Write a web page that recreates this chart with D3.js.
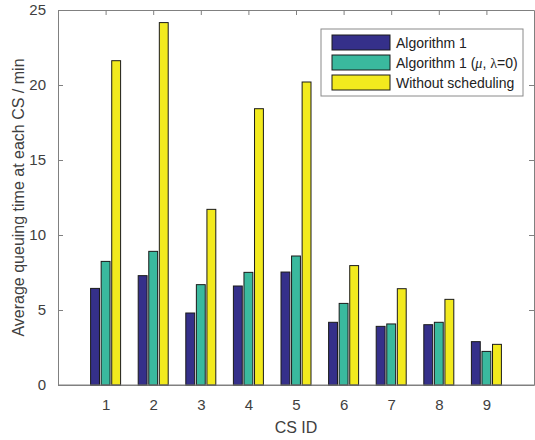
<!DOCTYPE html>
<html lang="en">
<head>
    <meta charset="UTF-8">
    <title>Average queuing time at each CS</title>
    <style>
        body {
            margin: 0;
            padding: 0;
            background: #ffffff;
        }
        svg text {
            font-family: "Liberation Sans", Arial, Helvetica, sans-serif;
        }
    </style>
</head>
<body>
    <div id="chart"></div>
    <script src="https://d3js.org/d3.v7.min.js"></script>
    <script>
        // Data
        const csIds = [1, 2, 3, 4, 5, 6, 7, 8, 9];
        const seriesNames = ['Algorithm 1', 'Algorithm 1 (mu, lambda=0)', 'Without scheduling'];
        const algorithm1 = [6.44, 7.29, 4.80, 6.60, 7.53, 4.18, 3.91, 4.02, 2.89];
        const algorithm1Zero = [8.24, 8.91, 6.69, 7.51, 8.60, 5.44, 4.07, 4.18, 2.24];
        const withoutScheduling = [21.62, 24.16, 11.71, 18.42, 20.20, 7.96, 6.42, 5.71, 2.71];
        const yTicks = [0, 5, 10, 15, 20, 25];
        const colors = ['#35308a', '#3ab99e', '#f2ea1e'];

        const width = 535;
        const height = 440;
        const margin = { top: 10, right: 1, bottom: 55, left: 58 };
        const plotRight = width - margin.right;
        const plotBottom = height - margin.bottom;

        const svg = d3.select('#chart')
            .append('svg')
            .attr('width', width)
            .attr('height', height);

        const x = d3.scaleLinear()
            .domain([0, 10])
            .range([margin.left, plotRight]);

        const y = d3.scaleLinear()
            .domain([0, 25])
            .range([plotBottom, margin.top]);

        // offsets of the three bars inside a group
        const xSub = d3.scaleBand()
            .domain(seriesNames)
            .range([-15, 15])
            .paddingInner(0.16);

        const axisColor = '#808080';
        const textColor = '#404040';
        const tickLen = 5;

        // bottom + top axes (ticks pointing inwards)
        const bottomAxis = svg.append('g')
            .attr('transform', `translate(0,${plotBottom})`)
            .call(d3.axisBottom(x).tickValues(csIds).tickSizeInner(-tickLen).tickSizeOuter(0).tickPadding(14));
        const topAxis = svg.append('g')
            .attr('transform', `translate(0,${margin.top})`)
            .call(d3.axisTop(x).tickValues(csIds).tickSizeInner(-tickLen).tickSizeOuter(0).tickFormat(''));
        const leftAxis = svg.append('g')
            .attr('transform', `translate(${margin.left},0)`)
            .call(d3.axisLeft(y).tickValues(yTicks).tickSizeInner(-tickLen).tickSizeOuter(0).tickPadding(12));
        const rightAxis = svg.append('g')
            .attr('transform', `translate(${plotRight},0)`)
            .call(d3.axisRight(y).tickValues(yTicks).tickSizeInner(-tickLen).tickSizeOuter(0).tickFormat(''));

        [bottomAxis, topAxis, leftAxis, rightAxis].forEach(a => {
            a.select('.domain').attr('stroke', axisColor);
            a.selectAll('.tick line').attr('stroke', axisColor);
            a.selectAll('.tick text')
                .attr('fill', textColor)
                .style('font-size', '15px');
        });

        // bars
        const seriesData = [algorithm1, algorithm1Zero, withoutScheduling];
        seriesData.forEach((values, si) => {
            svg.append('g')
                .selectAll('rect')
                .data(values)
                .join('rect')
                .attr('x', (d, i) => x(csIds[i]) + xSub(seriesNames[si]))
                .attr('width', xSub.bandwidth())
                .attr('y', d => y(d))
                .attr('height', d => y(0) - y(d))
                .attr('fill', colors[si])
                .attr('stroke', '#1a1a1a')
                .attr('stroke-width', 1);
        });

        // redraw the bottom line over the bars
        svg.append('line')
            .attr('x1', margin.left).attr('x2', plotRight)
            .attr('y1', plotBottom).attr('y2', plotBottom)
            .attr('stroke', axisColor);

        // axis labels
        svg.append('text')
            .attr('x', (margin.left + plotRight) / 2)
            .attr('y', 433)
            .attr('text-anchor', 'middle')
            .attr('fill', textColor)
            .style('font-size', '16px')
            .text('CS ID');

        svg.append('text')
            .attr('transform', `translate(24,${(margin.top + plotBottom) / 2}) rotate(-90)`)
            .attr('text-anchor', 'middle')
            .attr('fill', textColor)
            .style('font-size', '16px')
            .text('Average queuing time at each CS / min');

        // legend
        const legend = svg.append('g').attr('transform', 'translate(321,29)');
        legend.append('rect')
            .attr('width', 202)
            .attr('height', 67)
            .attr('fill', '#ffffff')
            .attr('stroke', '#8a8a8a');

        seriesNames.forEach((name, i) => {
            const row = legend.append('g').attr('transform', `translate(11,${6 + i * 20})`);
            row.append('rect')
                .attr('width', 58)
                .attr('height', 15)
                .attr('fill', colors[i])
                .attr('stroke', '#1a1a1a');
            const label = row.append('text')
                .attr('x', 64)
                .attr('y', 12.5)
                .attr('fill', '#222222')
                .style('font-size', '14px');
            if (i === 1) {
                label.append('tspan').text('Algorithm 1 (');
                label.append('tspan')
                    .style('font-family', '"Liberation Serif", "Times New Roman", serif')
                    .style('font-style', 'italic')
                    .text('\u03bc');
                label.append('tspan').text(', ');
                label.append('tspan')
                    .style('font-family', '"Liberation Serif", "Times New Roman", serif')
                    .text('\u03bb');
                label.append('tspan').text('=0)');
            } else {
                label.text(name);
            }
        });
    </script>
</body>
</html>
